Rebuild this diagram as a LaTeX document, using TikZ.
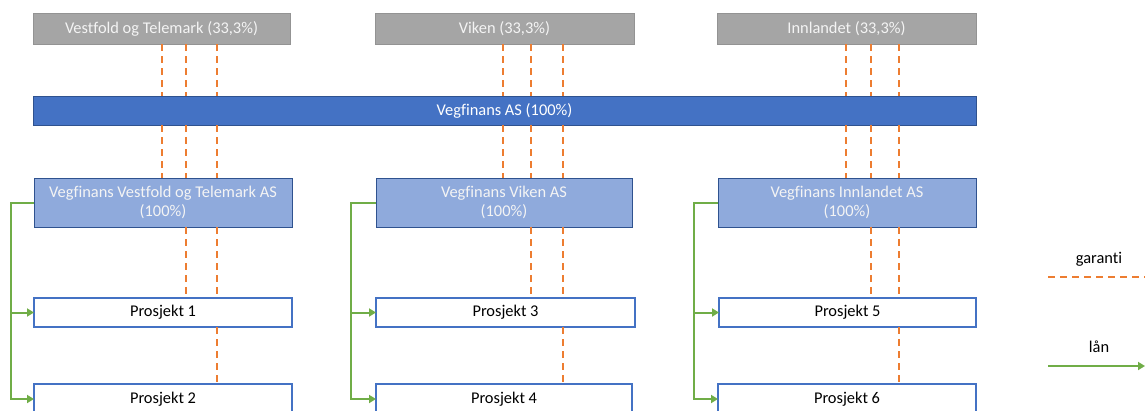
\documentclass[tikz,border=0pt]{standalone}
\usepackage{fontspec}
\setmainfont{Carlito}[Ligatures=NoCommon]
\usetikzlibrary{arrows.meta}
\definecolor{orng}{HTML}{ED7D31}
\definecolor{grn}{HTML}{70AD47}
\definecolor{bluebar}{HTML}{4472C4}
\definecolor{bluedark}{HTML}{2F528F}
\definecolor{bluelight}{HTML}{8FAADC}
\definecolor{grayfill}{HTML}{A5A5A5}
\definecolor{grayedge}{HTML}{939393}
\definecolor{lighttext}{HTML}{F4F4F4}
\begin{document}
\begin{tikzpicture}[x=1pt,y=-1pt,
  base/.style={inner sep=0pt, outer sep=0pt, align=center, font=\fontsize{16.4}{19.5}\selectfont},
  owner/.style={base, fill=grayfill, draw=grayedge, line width=0.8pt, text=lighttext, minimum height=31pt},
  holding/.style={base, fill=bluebar, draw=bluedark, line width=1pt, text=white, minimum height=29pt},
  sub/.style={base, fill=bluelight, draw=bluedark, line width=1pt, text=lighttext, minimum height=49pt},
  proj/.style={base, fill=white, draw=bluebar, line width=1.3pt, text=black, minimum height=29pt},
  legtext/.style={base, text=black},
  gar/.style={draw=orng, line width=2pt, dash pattern=on 7pt off 5pt},
  lan/.style={draw=grn, line width=2pt, -{Triangle[length=7pt,width=8pt]}},
  lanline/.style={draw=grn, line width=2pt}
]
\useasboundingbox (0,0) rectangle (1145,410);
\clip (0,0) rectangle (1145,410);

% owners
\node[owner, minimum width=257pt] (vt) at (161.5,28.5) {Vestfold og Telemark (33,3\%)};
\node[owner, minimum width=259pt] (vk) at (504.5,28.5) {Viken (33,3\%)};
\node[owner, minimum width=259pt] (inl) at (846.5,28.5) {Innlandet (33,3\%)};

% holding
\node[holding, minimum width=943pt] (bar) at (504.5,110.5) {Vegfinans AS (100\%)};

% subsidiaries
\node[sub, minimum width=258pt] (svt) at (163,202.5) {Vegfinans Vestfold og Telemark AS\\(100\%)};
\node[sub, minimum width=256pt] (svk) at (504,202.5) {Vegfinans Viken AS\\(100\%)};
\node[sub, minimum width=258pt] (sin) at (847,202.5) {Vegfinans Innlandet AS\\(100\%)};

% projects
\node[proj, minimum width=258pt] (p1) at (163,312.5) {Prosjekt 1};
\node[proj, minimum width=258pt, minimum height=30pt] (p2) at (163,399) {Prosjekt 2};
\node[proj, minimum width=259pt] (p3) at (505.5,312.5) {Prosjekt 3};
\node[proj, minimum width=256pt, minimum height=30pt] (p4) at (504,399) {Prosjekt 4};
\node[proj, minimum width=257pt] (p5) at (847.5,312.5) {Prosjekt 5};
\node[proj, minimum width=258pt, minimum height=30pt] (p6) at (847,399) {Prosjekt 6};

% guarantee line positions
\coordinate (a1) at (162,0);  \coordinate (a2) at (186,0);  \coordinate (a3) at (217,0);
\coordinate (b1) at (503,0);  \coordinate (b2) at (531,0);  \coordinate (b3) at (563,0);
\coordinate (c1) at (846,0);  \coordinate (c2) at (871,0);  \coordinate (c3) at (899,0);

\foreach \T/\S/\A/\B/\k in {vt/svt/p1/p2/a, vk/svk/p3/p4/b, inl/sin/p5/p6/c}{
  \foreach \i in {1,2,3}{
    \draw[gar] (\T.south -| \k\i) -- (bar.north -| \k\i);
    \draw[gar] (bar.south -| \k\i) -- (\S.north -| \k\i);
  }
  \draw[gar] (\S.south -| \k2) -- (\A.north -| \k2);
  \draw[gar] (\S.south -| \k3) -- (\A.north -| \k3);
  \draw[gar] (\A.south -| \k3) -- (\B.north -| \k3);
}

% loans
\coordinate (ga) at (11,0);
\coordinate (gb) at (351,0);
\coordinate (gc) at (694,0);
\foreach \S/\A/\B/\g in {svt/p1/p2/ga, svk/p3/p4/gb, sin/p5/p6/gc}{
  \draw[lanline] (\S.west) -| (\A.west -| \g);
  \draw[lan] (\A.west -| \g) -- (\A.west);
  \draw[lan] (\A.west -| \g) |- (\B.west);
}

% legend
\node[legtext] (lg) at (1099,259) {garanti};
\coordinate (lgs) at (1048,277);
\coordinate (lge) at (1145,277);
\draw[gar] (lgs) -- (lge);
\node[legtext] (ll) at (1099,347) {lån};
\coordinate (lls) at (1048,366);
\coordinate (lle) at (1145,366);
\draw[lan] (lls) -- (lle);
\end{tikzpicture}
\end{document}
